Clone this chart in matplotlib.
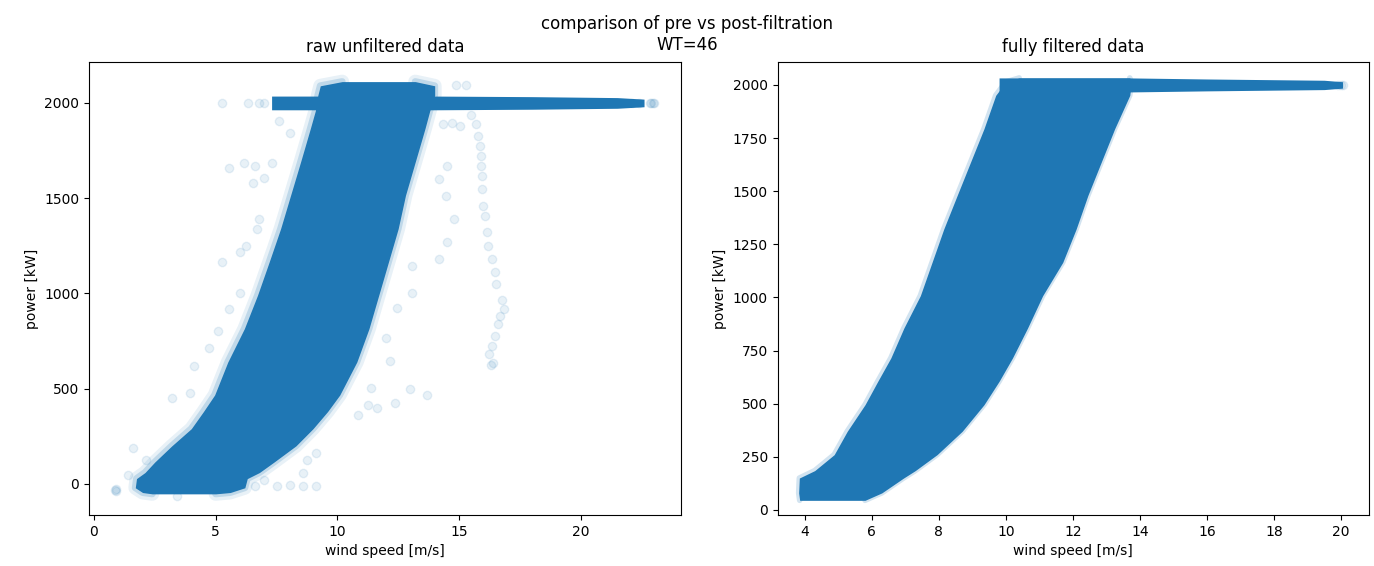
import matplotlib
matplotlib.use("Agg")
import matplotlib.pyplot as plt

# --- raw data: dense band outline (kW level -> min / max wind speed)
raw_kw = [-52, -45, -20, 28, 60, 115, 200, 290, 380, 467, 640, 815, 990,
          1165, 1340, 1515, 1690, 1865, 1960, 2040, 2090, 2112]
raw_ws_lo = [2.4, 2.0, 1.7, 1.75, 2.1, 2.5, 3.2, 4.0, 4.5, 4.96, 5.5, 6.18,
             6.72, 7.2, 7.67, 8.08, 8.49, 8.89, 9.1, 9.2, 9.3, 10.2]
raw_ws_hi = [5.0, 5.6, 6.2, 6.3, 6.8, 7.4, 8.3, 9.0, 9.6, 10.1, 10.8, 11.3,
             11.7, 12.1, 12.5, 12.8, 13.2, 13.6, 13.8, 14.0, 14.0, 13.2]

# rated power line of the raw data
raw_rated_ws = [7.3, 14.0, 18.0, 21.5, 22.6]
raw_rated_lo = [1964, 1964, 1967, 1972, 1980]
raw_rated_hi = [2036, 2036, 2033, 2028, 2020]

# scattered single points outside the band
raw_out_ws = [5.27, 6.35, 6.8, 7.0, 5.54, 6.17, 6.62, 6.52, 6.97, 7.33, 7.6,
              8.05, 5.99, 5.27, 6.26, 6.8, 6.71, 3.2, 3.93, 4.1, 4.73, 5.1,
              5.55, 6.0, 1.6, 2.13, 1.42, 0.88, 0.9, 0.92, 3.4,
              14.5, 14.16, 14.48, 14.78, 14.5, 14.16, 13.08, 15.05, 14.7,
              14.34, 14.87, 15.27, 13.08, 13.0, 13.7, 12.36, 11.64, 11.28,
              10.84, 11.37, 12.18, 12.0, 12.45, 9.13, 8.77, 8.6, 9.13, 8.6,
              8.05, 7.52, 6.97, 6.62,
              15.5, 15.68, 15.77, 15.86, 15.9, 15.91, 15.95, 15.95, 16.0,
              16.08, 16.13, 16.2, 16.35, 16.49, 16.5, 16.77, 16.86, 16.7,
              16.6, 16.47, 16.36, 16.23, 16.4, 16.3,
              22.1, 22.4, 22.85, 22.9, 22.95, 23.0]
raw_out_kw = [2000, 2000, 2000, 2000, 1660, 1686, 1669, 1582, 1608, 1686,
              1904, 1843, 1216, 1164, 1251, 1390, 1338, 452, 478, 618, 714,
              802, 916, 1003, 189, 128, 49, -30, -35, -28, -65,
              1669, 1599, 1512, 1390, 1268, 1181, 1146, 1878, 1895, 1887,
              2096, 2096, 1003, 496, 469, 426, 399, 417, 364, 504, 644, 767,
              925, 163, 128, 58, -12, -12, -5, -12, 23, -12,
              1939, 1887, 1826, 1774, 1721, 1669, 1617, 1547, 1460, 1408,
              1321, 1251, 1181, 1111, 1050, 963, 916, 881, 837, 776, 723,
              680, 636, 627,
              2000, 2000, 2000, 2000, 2000, 2000]

# --- filtered data: band outline
flt_kw = [45, 80, 150, 185, 260, 370, 495, 605, 715, 856, 1008, 1165, 1322,
          1480, 1637, 1794, 1951, 2014, 2033]
flt_ws_lo = [3.85, 3.82, 3.84, 4.3, 4.88, 5.27, 5.8, 6.18, 6.57, 6.96, 7.45,
             7.8, 8.15, 8.55, 8.95, 9.35, 9.7, 10.0, 10.4]
flt_ws_hi = [5.8, 6.3, 6.95, 7.3, 7.95, 8.7, 9.35, 9.8, 10.2, 10.65, 11.1,
             11.7, 12.1, 12.45, 12.85, 13.25, 13.7, 13.75, 13.7]

flt_rated_ws = [9.8, 13.7, 16.0, 19.5, 20.05]
flt_rated_lo = [1967, 1967, 1972, 1978, 1985]
flt_rated_hi = [2033, 2033, 2028, 2022, 2015]

flt_out_ws = [19.9, 20.0, 20.05]
flt_out_kw = [2000, 2000, 2000]

color = "C0"

fig, (ax1, ax2) = plt.subplots(1, 2, figsize=(13.74, 5.66), dpi=100)
fig.subplots_adjust(left=0.0648, right=0.9964, bottom=0.0901, top=0.8905,
                    wspace=0.164)


def draw_band(ax, kw, lo, hi, r_ws, r_lo, r_hi, fuzz):
    ax.fill_betweenx(kw, lo, hi, color=color, lw=0)
    ax.fill_between(r_ws, r_lo, r_hi, color=color, lw=0)
    # soft edge where the translucent markers thin out
    for lw, a in fuzz:
        ax.plot(lo, kw, color=color, lw=lw, alpha=a, solid_capstyle="round")
        ax.plot(hi, kw, color=color, lw=lw, alpha=a, solid_capstyle="round")


draw_band(ax1, raw_kw, raw_ws_lo, raw_ws_hi,
          raw_rated_ws, raw_rated_lo, raw_rated_hi,
          [(10, 0.10), (5, 0.2)])
ax1.scatter(raw_out_ws, raw_out_kw, color=color, alpha=0.1)
ax1.set_xlim(-0.2, 24.1)
ax1.set_ylim(-163, 2215)
ax1.set_title("raw unfiltered data", pad=7)
ax1.set_xlabel("wind speed [m/s]")
ax1.set_ylabel("power [kW]")

draw_band(ax2, flt_kw, flt_ws_lo, flt_ws_hi,
          flt_rated_ws, flt_rated_lo, flt_rated_hi,
          [(4, 0.2)])
ax2.scatter(flt_out_ws, flt_out_kw, color=color, alpha=0.1)
ax2.set_xlim(3.19, 20.84)
ax2.set_ylim(-24, 2108)
ax2.set_xticks(range(4, 21, 2))
ax2.set_title("fully filtered data", pad=7)
ax2.set_xlabel("wind speed [m/s]")
ax2.set_ylabel("power [kW]")

fig.suptitle("comparison of pre vs post-filtration\nWT=46", y=0.973)

plt.savefig("out.png", dpi=100)
